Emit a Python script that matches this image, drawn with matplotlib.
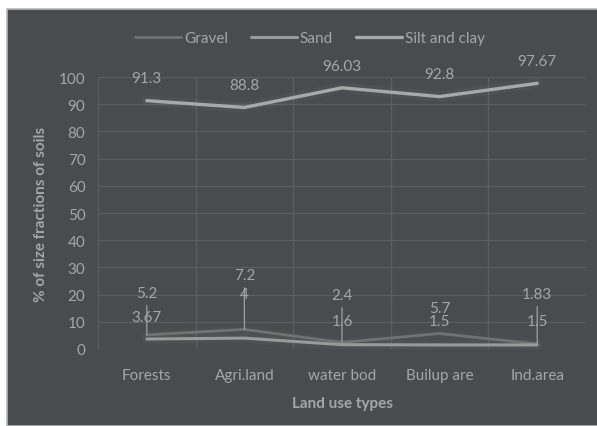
import matplotlib
matplotlib.use("Agg")
import matplotlib.pyplot as plt
from matplotlib.patches import Rectangle

# soil size fractions (%) per land use
land_use = ["Forests", "Agri.land", "water bod", "Builup are", "Ind.area"]
gravel = [5.2, 7.2, 2.4, 5.7, 1.83]
sand = [3.67, 4, 1.6, 1.5, 1.5]
silt_clay = [91.3, 88.8, 96.03, 92.8, 97.67]

bg = "#4a4b4e"
txt = "#a6a6a6"
plt.rcParams["font.family"] = ["Lato", "DejaVu Sans"]

fig = plt.figure(figsize=(5.97, 4.27), dpi=100, facecolor="white")
# dark chart panel with a thin light edge
fig.patches.append(Rectangle((7 / 597, 0), 1, 1 - 10 / 427, transform=fig.transFigure,
                             facecolor=bg, edgecolor="#b8b8b8", linewidth=1.2, zorder=-10))

ax = fig.add_axes([98 / 597, 77 / 427, 488 / 597, 272 / 427])
ax.patch.set_alpha(0)

x = list(range(len(land_use)))
series = [("Gravel", gravel, "#727273", 2.0),
          ("Sand", sand, "#9a9a9b", 2.2),
          ("Silt and clay", silt_clay, "#a9a9aa", 2.4)]
for name, vals, col, lw in series:
    ax.plot(x, vals, color=col, lw=lw + 5, alpha=0.06, solid_capstyle="round", zorder=2)
    ax.plot(x, vals, color=col, lw=lw, label=name, solid_capstyle="round", zorder=3)

# data labels, offsets in points above each point
silt_off = [16, 16, 16, 16, 16]
gravel_off = [30, 39, 34, 18, 36]
sand_off = [16, 32, 17, 17, 17]
for i in x:
    ax.annotate(f"{silt_clay[i]:g}", (i, silt_clay[i]), xytext=(0, silt_off[i]),
                textcoords="offset points", ha="center", va="center", color=txt, fontsize=11)
    lead = dict(arrowstyle="-", color="#a0a0a0", lw=0.9, shrinkA=2, shrinkB=0) if gravel_off[i] > 25 else None
    ax.annotate(f"{gravel[i]:g}", (i, gravel[i]), xytext=(0, gravel_off[i]),
                textcoords="offset points", ha="center", va="center", color=txt, fontsize=11,
                arrowprops=lead, zorder=4)
    ax.annotate(f"{sand[i]:g}", (i, sand[i]), xytext=(0, sand_off[i]),
                textcoords="offset points", ha="center", va="center", color=txt, fontsize=11, zorder=4)

ax.set_xlim(-0.5, len(land_use) - 0.5)
ax.set_ylim(0, 100)
ax.set_yticks(range(0, 101, 10))
ax.set_xticks(x)
ax.set_xticklabels(land_use)
ax.set_xticks([i + 0.5 for i in range(-1, len(land_use))], minor=True)
ax.grid(axis="y", color="#5c5d60", lw=0.9)
ax.grid(axis="x", which="minor", color="#5c5d60", lw=0.9)
ax.tick_params(which="both", length=0, colors=txt, labelsize=11)
ax.tick_params(axis="y", pad=9)
ax.tick_params(axis="x", pad=14)
for s in ax.spines.values():
    s.set_visible(False)

ax.set_ylabel("% of size fractions of soils", color=txt, fontsize=11, fontweight="bold", labelpad=8)
ax.set_xlabel("Land use types", color=txt, fontsize=11, fontweight="bold", labelpad=10)

leg = fig.legend(loc="center", bbox_to_anchor=(310 / 597, 1 - 39 / 427), ncol=3, frameon=False,
                 fontsize=11, handlelength=3, handletextpad=0.2, columnspacing=1.5)
for t in leg.get_texts():
    t.set_color(txt)

fig.savefig("out.png", dpi=100, facecolor="white")
